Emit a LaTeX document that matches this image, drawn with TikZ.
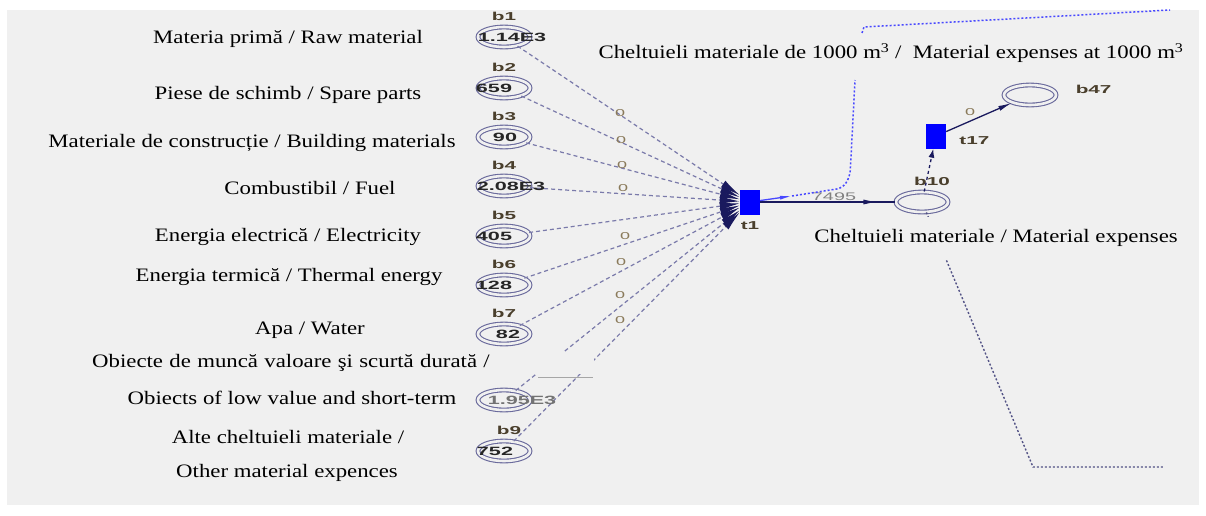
\documentclass[tikz,border=0pt]{standalone}
\usepackage{fontspec}
\setmainfont{Liberation Serif}[FakeStretch=1.2]
\newfontfamily\tagfont{Liberation Sans}[FakeStretch=1.8]
\usetikzlibrary{shapes.geometric,arrows.meta,decorations.markings}
\definecolor{bgcol}{HTML}{F0F0F0}
\definecolor{ringcol}{HTML}{6A6A9C}
\definecolor{arccol}{HTML}{7A7AAA}
\definecolor{headcol}{HTML}{1A1A5E}
\definecolor{trancol}{HTML}{0000FF}
\definecolor{linkcol}{HTML}{4848FF}
\definecolor{tagcol}{HTML}{4A3F2C}
\definecolor{wcol}{HTML}{8A7A5A}
\tikzset{
	place/.style={ellipse, draw=ringcol, line width=1.1pt, double=bgcol, double distance=2.6pt, minimum width=52pt, minimum height=20pt, inner sep=0pt},
	trans/.style={rectangle, fill=trancol, minimum width=20pt, minimum height=25pt, inner sep=0pt},
	tag/.style={font=\tagfont\bfseries\fontsize{11.5}{12}\selectfont, text=tagcol, inner sep=1pt, label distance=5pt},
	tok/.style={font=\tagfont\bfseries\fontsize{12}{13}\selectfont, text=black!85, inner sep=0pt},
	wlbl/.style={font=\tagfont\fontsize{10}{11}\selectfont, text=wcol, inner sep=0pt},
	inarc/.style={draw=arccol, line width=1.2pt, dash pattern=on 4pt off 3pt, -{Latex[length=20pt,width=8pt,color=headcol]}},
	outarc/.style={draw=headcol, line width=1.3pt},
	txt/.style={font=\fontsize{19}{21}\selectfont, fill=bgcol, inner sep=2pt},
	bluelink/.style={draw=linkcol, line width=1.5pt, dash pattern=on 2pt off 2pt},
	darklink/.style={draw=headcol!75, line width=1.4pt, dash pattern=on 2pt off 2pt}
}
\begin{document}
\begin{tikzpicture}[x=1pt,y=-1pt]
		\useasboundingbox (0,0) rectangle (1206,515);
		\fill[white] (0,0) rectangle (1206,515);
		\fill[bgcol] (7,10) rectangle (1199,505);
		
		\node[place, label={[tag]above:b1}] (b1) at (504,37) {};
		\node[place, label={[tag]above:b2}] (b2) at (504,88) {};
		\node[place, label={[tag]above:b3}] (b3) at (504,137) {};
		\node[place, label={[tag]above:b4}] (b4) at (504,186) {};
		\node[place, label={[tag]above:b5}] (b5) at (504,236) {};
		\node[place, label={[tag]above:b6}] (b6) at (504,285) {};
		\node[place, label={[tag]above:b7}] (b7) at (504,334) {};
		\node[place] (b8) at (504,400) {};
		\node[place, label={[tag, xshift=5pt]above:b9}] (b9) at (504,451) {};
		\node[place, label={[tag, xshift=10pt]above:b10}] (b10) at (922,202) {};
		\node[place, label={[tag, label distance=18pt, yshift=6pt]right:b47}] (b47) at (1030,95) {};
		
		\node[trans, label={[tag, label distance=6pt]below:t1}] (t1) at (750,202) {};
		\node[trans, label={[tag, label distance=12pt, yshift=-5pt]right:t17}] (t17) at (936,136) {};
		
		\draw[inarc] (b1) -- (t1);
		\draw[inarc] (b2) -- (t1);
		\draw[inarc] (b3) -- (t1);
		\draw[inarc] (b4) -- (t1);
		\draw[inarc] (b5) -- (t1);
		\draw[inarc] (b6) -- (t1);
		\draw[inarc] (b7) -- (t1);
		\draw[inarc] (b8) -- (t1);
		\draw[inarc] (b9) -- (t1);
		
		\node[wlbl] (w1) at (620,113) {0};
		\node[wlbl] (w2) at (621,140) {0};
		\node[wlbl] (w3) at (622,165) {0};
		\node[wlbl] (w4) at (623,188) {0};
		\node[wlbl] (w5) at (625,236) {0};
		\node[wlbl] (w6) at (621,262) {0};
		\node[wlbl] (w7) at (620,295) {0};
		\node[wlbl] (w8) at (620,320) {0};
		
		\draw[outarc, postaction={decorate}, decoration={markings, mark=at position -18pt with {\arrow{Latex[length=14pt,width=5pt]}}}] (t1) -- (b10);
		\node[wlbl, text=gray, font=\tagfont\fontsize{11}{12}\selectfont] (w0) at (834,197) {7495};
		\draw[outarc, dashed, -{Latex[length=9pt,width=6pt]}] (b10) -- (t17);
		\draw[outarc, -{Latex[length=14pt,width=5pt]}] (t17) -- (b47);
		\node[wlbl] (w9) at (970,112) {0};
		
		\coordinate (bl1) at (792,196);
		\draw[draw=linkcol, line width=1.3pt, -{Latex[length=12pt,width=4pt]}] (t1) -- (bl1);
		\draw[bluelink, rounded corners=6pt] (bl1) -- (843,188) -- (850,176) -- (855,80);
		\draw[bluelink] (862,33) -- (864,27) -- (1170,10);
		\draw[darklink] (b10) -- (1033,467) -- (1163,467);
		\draw[gray!70, line width=1pt] (538,377) -- (593,377);
		
		\node[tok] (b1v) at (512,37) {1.14E3};
		\node[tok] (b2v) at (494,88) {659};
		\node[tok] (b3v) at (505,137) {90};
		\node[tok] (b4v) at (511,186) {2.08E3};
		\node[tok] (b5v) at (494,236) {405};
		\node[tok] (b6v) at (494,285) {128};
		\node[tok] (b7v) at (508,334) {82};
		\node[tok, text=black!55] (b8v) at (522,400) {1.95E3};
		\node[tok] (b9v) at (495,451) {752};
		
		\node[txt] (l1) at (288,39) {Materia primă / Raw material};
		\node[txt] (l2) at (288,95) {Piese de schimb / Spare parts};
		\node[txt] (l3) at (252,143) {Materiale de construcție / Building materials};
		\node[txt] (l4) at (310,188) {Combustibil / Fuel};
		\node[txt] (l5) at (288,237) {Energia electrică / Electricity};
		\node[txt] (l6) at (289,277) {Energia termică / Thermal energy};
		\node[txt] (l7) at (310,330) {Apa / Water};
		\node[txt, anchor=west, text width=500pt, align=left] (l8a) at (90,363) {Obiecte de muncă valoare şi scurtă durată /};
		\node[txt] (l8b) at (292,398) {Obiects of low value and short-term};
		\node[txt] (l9a) at (288,437) {Alte cheltuieli materiale /};
		\node[txt] (l9b) at (287,473) {Other material expences};
		\node[txt] (l10) at (891,53) {Cheltuieli materiale de 1000 m\textsuperscript{3} /~ Material expenses at 1000 m\textsuperscript{3}};
		\node[txt, inner ysep=12pt] (l11) at (996,238) {Cheltuieli materiale / Material expenses};
		
	\end{tikzpicture}
\end{document}
